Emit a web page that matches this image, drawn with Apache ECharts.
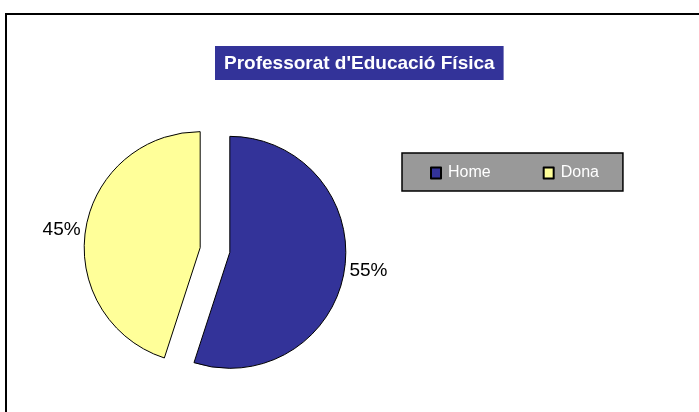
<!DOCTYPE html>
<html>
<head>
<meta charset="utf-8">
<script src="https://cdn.jsdelivr.net/npm/echarts@6/dist/echarts.min.js"></script>
<style>
  html, body { margin: 0; padding: 0; overflow: hidden; background: #fff; }
  #wrap { position: relative; width: 699px; height: 412px; overflow: hidden; }
  #frame { position: absolute; left: 5px; top: 13px; width: 800px; height: 600px; border: 2px solid #000; box-sizing: border-box; }
  #chart { position: absolute; left: 0; top: 0; width: 699px; height: 412px; }
</style>
</head>
<body>
<div id="wrap">
  <div id="frame"></div>
  <div id="chart"></div>
</div>
<script>
const titleText = "Professorat d'Educació Física";
const categories = ["Home", "Dona"];
const values = [55, 45];
const colors = ["#333399", "#FFFF99"];

const chart = echarts.init(document.getElementById('chart'), null, { renderer: 'canvas' });
const font = "'Liberation Sans', Arial, sans-serif";

const data = categories.map((c, i) => ({
  name: c,
  value: values[i],
  selected: true,
  itemStyle: { color: colors[i], borderColor: '#000', borderWidth: 1 },
  select: { itemStyle: { color: colors[i], borderColor: '#000', borderWidth: 1 } }
}));

chart.setOption({
  animation: false,
  backgroundColor: 'transparent',
  title: {
    text: titleText,
    left: 215,
    top: 46,
    padding: [8, 9, 7, 9],
    backgroundColor: '#333399',
    textStyle: { color: '#fff', fontSize: 19, fontWeight: 'bold', fontFamily: font }
  },
  legend: {
    data: categories,
    left: 402,
    top: 153,
    orient: 'horizontal',
    backgroundColor: '#999999',
    borderColor: '#000',
    borderWidth: 1.5,
    borderRadius: 0,
    padding: [12, 24, 10, 28],
    itemWidth: 10,
    itemHeight: 11,
    itemGap: 52,
    icon: 'rect',
    selectedMode: false,
    textStyle: { color: '#fff', fontSize: 16, fontFamily: font, padding: [0, 0, 0, 2] }
  },
  series: [{
    type: 'pie',
    center: [215, 250],
    radius: [0, 116],
    startAngle: 90,
    clockwise: true,
    selectedMode: 'multiple',
    selectedOffset: 15,
    avoidLabelOverlap: false,
    emphasis: { disabled: true },
    label: {
      show: true,
      position: 'outside',
      formatter: '{d}%',
      color: '#000',
      fontSize: 19,
      fontFamily: font
    },
    labelLine: { show: false, length: 0, length2: 0 },
    data: data
  }]
});
</script>
</body>
</html>
